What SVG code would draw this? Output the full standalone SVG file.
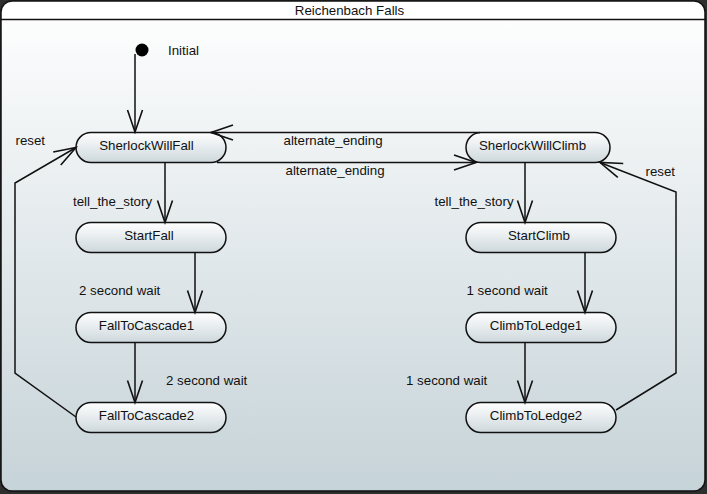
<svg xmlns="http://www.w3.org/2000/svg" width="707" height="494" viewBox="0 0 707 494">
<defs>
<linearGradient id="bg" x1="0" y1="0" x2="0" y2="1">
<stop offset="0" stop-color="#ffffff"/>
<stop offset="1" stop-color="#c6d3d8"/>
</linearGradient>
<linearGradient id="nodeg" x1="0" y1="0" x2="0" y2="1">
<stop offset="0" stop-color="#ffffff"/>
<stop offset="1" stop-color="#cdd8dc"/>
</linearGradient>
<clipPath id="frameclip"><rect x="1" y="1" width="704" height="490" rx="11"/></clipPath>
<marker id="arr" markerUnits="userSpaceOnUse" markerWidth="30" markerHeight="20" viewBox="-24 -10 26 20" refX="0" refY="0" orient="auto" overflow="visible">
<path d="M -22 -7.5 L 0 0 L -22 7.5" fill="none" stroke="#111" stroke-width="1.6"/>
</marker>
</defs>
<style>
.node rect{fill:url(#nodeg);stroke:#111;stroke-width:1.5}
text{font-family:"Liberation Sans",Arial,sans-serif;font-size:13.3px;fill:#111}
.nt{text-anchor:middle}
.conn path{fill:none;stroke:#111;stroke-width:1.5;marker-end:url(#arr)}
</style>
<rect x="0" y="0" width="707" height="494" fill="#2e2e2e"/>
<g id="frame">
<rect x="1" y="1" width="704" height="490" rx="11" fill="url(#bg)"/>
<rect x="1" y="1" width="704" height="19" fill="#ffffff" clip-path="url(#frameclip)"/>
<line x1="1" y1="19.5" x2="705" y2="19.5" stroke="#111" stroke-width="1.5"/>
<rect x="1" y="1" width="704" height="490" rx="11" fill="none" stroke="#111" stroke-width="1.5"/>
<text x="349.5" y="14.5" class="nt">Reichenbach Falls</text>
</g>
<g id="initial">
<circle cx="142" cy="50" r="6.5" fill="#000"/>
<text x="168" y="55">Initial</text>
</g>
<g id="SherlockWillFall" class="node"><rect x="76" y="132.5" width="150" height="30" rx="15"/><text x="146.5" y="150" class="nt">SherlockWillFall</text></g>
<g id="StartFall" class="node"><rect x="76" y="222.5" width="150" height="30" rx="15"/><text x="149" y="240" class="nt">StartFall</text></g>
<g id="FallToCascade1" class="node"><rect x="76" y="312.5" width="150" height="30" rx="15"/><text x="146.5" y="330" class="nt">FallToCascade1</text></g>
<g id="FallToCascade2" class="node"><rect x="76" y="402.5" width="150" height="30" rx="15"/><text x="146.5" y="420" class="nt">FallToCascade2</text></g>
<g id="SherlockWillClimb" class="node"><rect x="466" y="132.5" width="144" height="30" rx="15"/><text x="532.5" y="150" class="nt">SherlockWillClimb</text></g>
<g id="StartClimb" class="node"><rect x="466" y="222.5" width="150" height="30" rx="15"/><text x="539" y="240" class="nt">StartClimb</text></g>
<g id="ClimbToLedge1" class="node"><rect x="466" y="312.5" width="150" height="30" rx="15"/><text x="536" y="330" class="nt">ClimbToLedge1</text></g>
<g id="ClimbToLedge2" class="node"><rect x="466" y="402.5" width="150" height="30" rx="15"/><text x="536" y="420" class="nt">ClimbToLedge2</text></g>
<g id="connectors" class="conn">
<path d="M 135 54 L 135 132"/>
<path d="M 165 162.5 L 165 222.5"/>
<path d="M 195 252.5 L 195 312.5"/>
<path d="M 135 342.5 L 135 402.5"/>
<path d="M 76 417 L 15 373 L 15 183 L 76 147.5"/>
<path d="M 480 132.5 L 211 132.5"/>
<path d="M 217 162.5 L 476 162.5"/>
<path d="M 525 162.5 L 525 222.5"/>
<path d="M 585 252.5 L 585 312.5"/>
<path d="M 525 342.5 L 525 402.5"/>
<path d="M 616 410 L 676 373 L 676 192 L 600 162.5"/>
</g>
<g id="labels">
<text x="15.5" y="145">reset</text>
<text x="283.5" y="145">alternate_ending</text>
<text x="285.5" y="175">alternate_ending</text>
<text x="73" y="205.5">tell_the_story</text>
<text x="434.5" y="205.5">tell_the_story</text>
<text x="79" y="295">2 second wait</text>
<text x="166" y="385">2 second wait</text>
<text x="466.5" y="295">1 second wait</text>
<text x="406" y="385">1 second wait</text>
<text x="645.5" y="175.5">reset</text>
</g>
</svg>
